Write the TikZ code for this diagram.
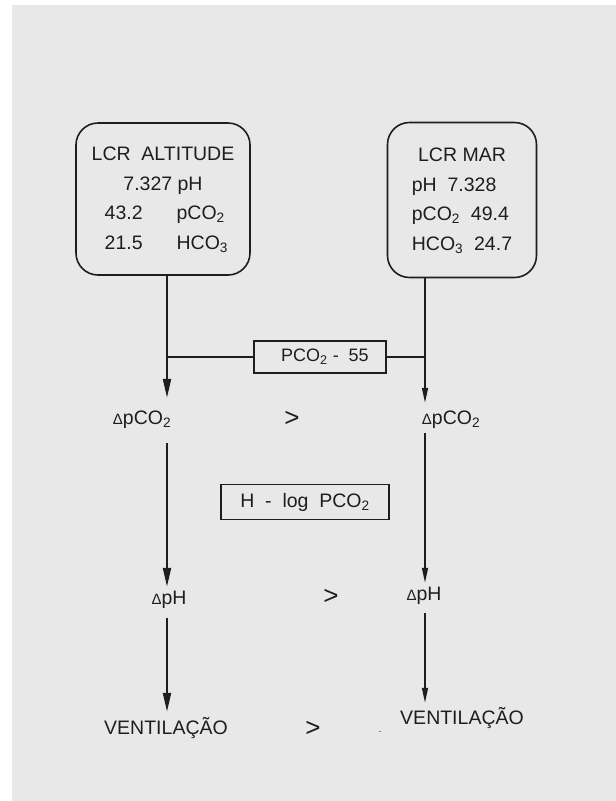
\documentclass[tikz,border=0pt]{standalone}
\usepackage{fontspec}
\setmainfont{Liberation Sans}
\usetikzlibrary{arrows.meta}
\definecolor{lcrink}{HTML}{1E1E1E}
\definecolor{lcrpaper}{HTML}{E8E8E8}
\newcommand{\dlt}{{\fontsize{15}{15}\selectfont Δ}}

\begin{document}
\begin{tikzpicture}[x=1pt, y=-1pt,
  font=\fontsize{19.5}{29.5}\selectfont, text=lcrink,
  panel/.style={draw=lcrink, rounded corners=22pt, line width=1.6pt, inner sep=0pt, align=center},
  factor/.style={draw=lcrink, line width=1.4pt, inner sep=0pt},
  lbl/.style={inner sep=0pt, text height=13pt, text depth=4pt},
  cmp/.style={lbl, font=\fontsize{26}{26}\selectfont},
  flowL/.style={-{Triangle[length=19pt, width=8pt]}, line width=2.2pt, draw=lcrink},
  flowR/.style={-{Triangle[length=15pt, width=6pt]}, line width=1.5pt, draw=lcrink},
  link/.style={line width=1.4pt, draw=lcrink}
]
% ================= page =================
\useasboundingbox (0,0) rectangle (616,801);
\fill[white] (0,0) rectangle (616,801);
\fill[lcrpaper] (12,5) rectangle (616,801);
\coordinate (colL) at (167,0);
\coordinate (colR) at (425,0);
% ================= the two LCR boxes =================
\node[panel, minimum width=174pt, minimum height=152pt] (alt) at (163,199)
  {\begin{tabular}{@{\hspace{13pt}}l@{\hspace{34pt}}l@{}}
   \multicolumn{2}{@{}c@{}}{LCR\ \ ALTITUDE}\\
   \multicolumn{2}{@{}c@{}}{7.327 pH}\\
   43.2 & pCO\textsubscript{2}\\
   21.5 & HCO\textsubscript{3}
   \end{tabular}};
\node[panel, minimum width=149pt, minimum height=155pt] (mar) at (462,200)
  {\begin{tabular}{@{}l@{}}
   \multicolumn{1}{@{}c@{}}{LCR MAR}\\
   pH\ \ 7.328\\
   pCO\textsubscript{2}\ \ 49.4\\
   HCO\textsubscript{3}\ \ 24.7
   \end{tabular}};
% ================= factors =================
\node[factor, minimum width=132pt, minimum height=32pt, font=\fontsize{18}{18}\selectfont] (fac1) at (320,357) {\hspace{10pt}PCO\textsubscript{2}\ -\ \ 55};
\node[factor, minimum width=168pt, minimum height=35pt] (fac2) at (305,502) {H\ \ -\ \ log\ \ PCO\textsubscript{2}};
% ================= labels =================
\node[lbl] (dpL) at (142,420) {\dlt pCO\textsubscript{2}};
\node[lbl] (phL) at (169,600) {\dlt pH};
\node[lbl] (vL)  at (166,730) {VENTILAÇÃO};
\node[lbl] (dpR) at (451,420) {\dlt pCO\textsubscript{2}};
\node[lbl] (phR) at (424,596) {\dlt pH};
\node[lbl] (vR)  at (462,720) {VENTILAÇÃO};
\node[cmp] (gt1) at (292,422) {>};
\node[cmp] (gt2) at (331,600) {>};
\node[cmp] (gt3) at (313,732) {>};
\node[lbl, font=\fontsize{10}{10}\selectfont] (speck) at (380,728) {.};
% ================= left column =================
\draw[flowL, shorten >=13.5pt] (alt.south -| colL) -- (dpL.north -| colL);
\draw[flowL, shorten <=14.5pt, shorten >=4.5pt] (dpL.south -| colL) -- (phL.north -| colL);
\draw[flowL, shorten <=9.5pt, shorten >=9.5pt] (phL.south -| colL) -- (vL.north -| colL);
% ================= right column =================
\draw[flowR, shorten >=8.5pt] (mar.south -| colR) -- (dpR.north -| colR);
\draw[flowR, shorten <=4.5pt, shorten >=4.5pt] (dpR.south -| colR) -- (phR.north -| colR);
\draw[flowR, shorten <=8.5pt, shorten >=8.5pt] (phR.south -| colR) -- (vR.north -| colR);
% ================= factor links =================
\draw[link] (fac1.west) -- (fac1.west -| colL);
\draw[link] (fac1.east) -- (fac1.east -| colR);
\end{tikzpicture}
\end{document}
